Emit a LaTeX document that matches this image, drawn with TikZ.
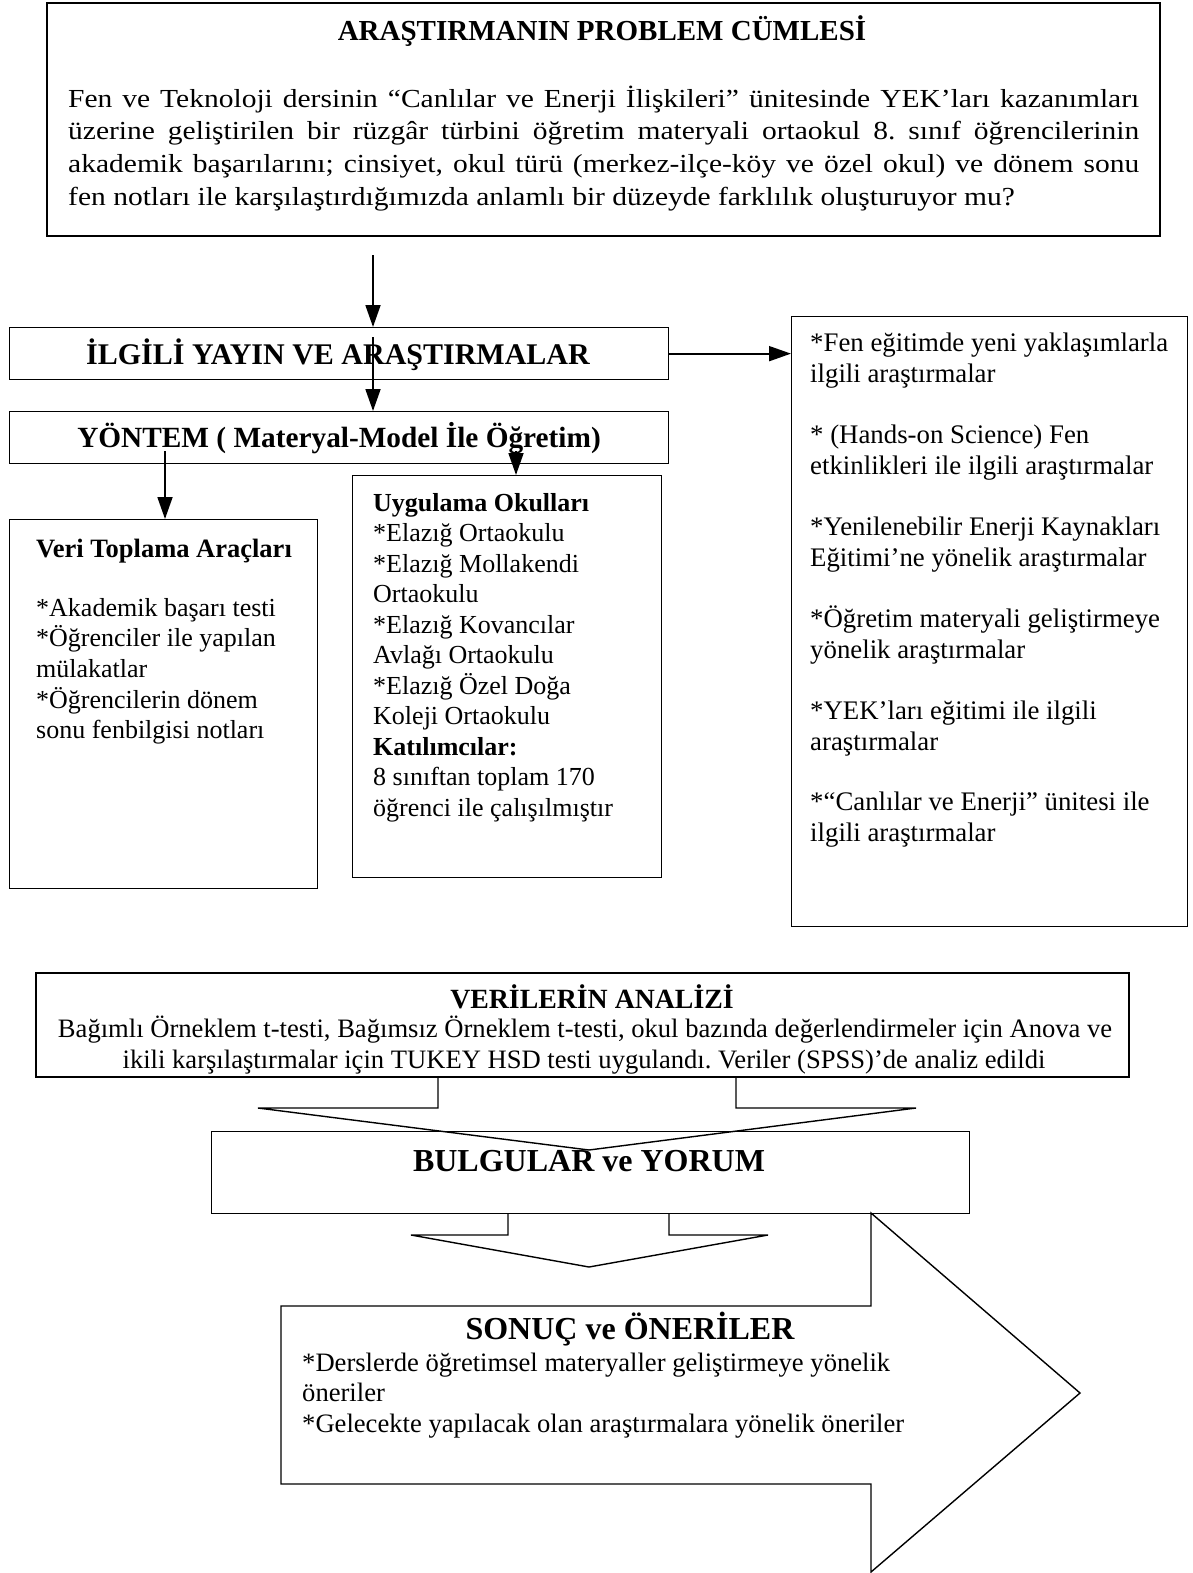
\documentclass[tikz,border=0pt]{standalone}
\usepackage{fontspec}
\setmainfont{Liberation Serif}
\newfontfamily\widefont{Liberation Serif}[FakeStretch=1.135]
\frenchspacing
\usetikzlibrary{arrows.meta}
\tikzset{
  box/.style={draw, line width=1.3pt, inner sep=0pt, anchor=north west},
  arr/.style={line width=1.8pt, -{Triangle[width=15pt,length=22pt]}},
  blockarrow/.style={draw, line width=1.4pt, line join=miter},
  txt/.style={inner sep=0pt, anchor=base west, font=\fontsize{26}{30}\selectfont},
  rtxt/.style={txt, font=\fontsize{26.8}{30}\selectfont},
  btxt/.style={txt, font=\fontsize{26}{30}\selectfont\bfseries},
  wtxt/.style={inner sep=0pt, anchor=base west, font=\widefont\fontsize{26}{30}\selectfont},
  ctxt/.style={inner sep=0pt, anchor=base, font=\fontsize{26.6}{30}\selectfont},
  cbtxt/.style={inner sep=0pt, anchor=base, font=\fontsize{27.8}{30}\selectfont\bfseries},
  bigtitle/.style={inner sep=0pt, anchor=base, font=\fontsize{29.5}{32}\selectfont\bfseries},
  hugetitle/.style={inner sep=0pt, anchor=base, font=\fontsize{32}{36}\selectfont\bfseries}
}
\begin{document}
\begin{tikzpicture}[x=1pt,y=-1pt]
\useasboundingbox[fill=white] (0,0) rectangle (1192,1573);

% ---------- boxes ----------
\node[box, line width=1.8pt, minimum width=1113pt, minimum height=233pt] (top) at (46,2) {};
\node[box, minimum width=659pt, minimum height=52pt] (ilgili) at (9,327) {};
\node[box, minimum width=659pt, minimum height=52pt] (yontem) at (9,411) {};
\node[box, minimum width=308pt, minimum height=369pt] (veri) at (9,519) {};
\node[box, minimum width=309pt, minimum height=402pt] (uyg) at (352,475) {};
\node[box, minimum width=396pt, minimum height=610pt] (right) at (791,316) {};
\node[box, line width=1.8pt, minimum width=1093pt, minimum height=104pt] (analiz) at (35,972) {};
\node[box, minimum width=758pt, minimum height=82pt] (bulgu) at (211,1131) {};

% ---------- top box text ----------
\node[bigtitle, font=\fontsize{29}{32}\selectfont\bfseries] (toptitle) at (602,41) {ARAŞTIRMANIN PROBLEM CÜMLESİ};
\node[wtxt] (p1) at (68,107.5) {\makebox[1071pt][s]{Fen ve Teknoloji dersinin “Canlılar ve Enerji İlişkileri” ünitesinde YEK’ları kazanımları}};
\node[wtxt] (p2) at (68,140) {\makebox[1071pt][s]{üzerine geliştirilen bir rüzgâr türbini öğretim materyali ortaokul 8. sınıf öğrencilerinin}};
\node[wtxt] (p3) at (68,172.5) {\makebox[1071pt][s]{akademik başarılarını; cinsiyet, okul türü (merkez-ilçe-köy ve özel okul) ve dönem sonu}};
\node[wtxt] (p4) at (68,205) {fen notları ile karşılaştırdığımızda anlamlı bir düzeyde farklılık oluşturuyor mu?};

% ---------- middle titles ----------
\node[bigtitle, font=\fontsize{30}{32}\selectfont\bfseries] (ilgilit) at (338,364) {İLGİLİ YAYIN VE ARAŞTIRMALAR};
\node[bigtitle, font=\fontsize{29.3}{32}\selectfont\bfseries] (yontemt) at (339,447) {YÖNTEM ( Materyal-Model İle Öğretim)};

% ---------- veri toplama ----------
\node[btxt, font=\fontsize{26.5}{30}\selectfont\bfseries] (v0) at (36,557) {Veri Toplama Araçları};
\node[txt] (v1) at (36,616) {*Akademik başarı testi};
\node[txt] (v2) at (36,646.7) {*Öğrenciler ile yapılan};
\node[txt] (v3) at (36,677.4) {mülakatlar};
\node[txt] (v4) at (36,708) {*Öğrencilerin dönem};
\node[txt] (v5) at (36,738.8) {sonu fenbilgisi notları};

% ---------- uygulama okullari ----------
\node[btxt] (u0) at (373,511) {Uygulama Okulları};
\node[txt] (u1) at (373,541.5) {*Elazığ Ortaokulu};
\node[txt] (u2) at (373,572) {*Elazığ Mollakendi};
\node[txt] (u3) at (373,602.5) {Ortaokulu};
\node[txt] (u4) at (373,633) {*Elazığ Kovancılar};
\node[txt] (u5) at (373,663.5) {Avlağı Ortaokulu};
\node[txt] (u6) at (373,694) {*Elazığ Özel Doğa};
\node[txt] (u7) at (373,724.5) {Koleji Ortaokulu};
\node[btxt] (u8) at (373,755) {Katılımcılar:};
\node[txt] (u9) at (373,785.5) {8 sınıftan toplam 170};
\node[txt] (u10) at (373,816) {öğrenci ile çalışılmıştır};

% ---------- right box ----------
\node[rtxt] (r1) at (810,351) {*Fen eğitimde yeni yaklaşımlarla};
\node[rtxt] (r2) at (810,382) {ilgili araştırmalar};
\node[rtxt] (r3) at (810,443) {* (Hands-on Science) Fen};
\node[rtxt] (r4) at (810,474) {etkinlikleri ile ilgili araştırmalar};
\node[rtxt] (r5) at (810,535) {*Yenilenebilir Enerji Kaynakları};
\node[rtxt] (r6) at (810,566) {Eğitimi’ne yönelik araştırmalar};
\node[rtxt] (r7) at (810,627) {*Öğretim materyali geliştirmeye};
\node[rtxt] (r8) at (810,658) {yönelik araştırmalar};
\node[rtxt] (r9) at (810,719) {*YEK’ları eğitimi ile ilgili};
\node[rtxt] (r10) at (810,750) {araştırmalar};
\node[rtxt] (r11) at (810,810) {*“Canlılar ve Enerji” ünitesi ile};
\node[rtxt] (r12) at (810,841) {ilgili araştırmalar};

% ---------- analiz ----------
\node[cbtxt] (a0) at (592,1008) {VERİLERİN ANALİZİ};
\node[ctxt] (a1) at (585,1037.5) {Bağımlı Örneklem t-testi, Bağımsız Örneklem t-testi, okul bazında değerlendirmeler için Anova ve};
\node[ctxt] (a2) at (584,1068) {ikili karşılaştırmalar için TUKEY HSD testi uygulandı. Veriler (SPSS)’de analiz edildi};

% ---------- bulgular ----------
\node[hugetitle] (b0) at (589,1171) {BULGULAR ve YORUM};

% ---------- block arrows ----------
\draw[blockarrow] (438,1076) -- (438,1108) -- (258,1108) -- (589,1150) -- (916,1108) -- (736,1108) -- (736,1076);
\draw[blockarrow] (508,1213) -- (508,1235) -- (411,1235) -- (589,1267) -- (768,1235) -- (669,1235) -- (669,1213);
\draw[blockarrow] (871,1213) -- (871,1306) -- (281,1306) -- (281,1484) -- (871,1484) -- (871,1572) -- (1080,1393) -- cycle;

% ---------- sonuc ----------
\node[hugetitle] (s0) at (630,1339) {SONUÇ ve ÖNERİLER};
\node[txt, font=\fontsize{26.6}{30}\selectfont] (s1) at (302,1371) {*Derslerde öğretimsel materyaller geliştirmeye yönelik};
\node[txt, font=\fontsize{26.6}{30}\selectfont] (s2) at (302,1401) {öneriler};
\node[txt, font=\fontsize{26.6}{30}\selectfont] (s3) at (302,1432) {*Gelecekte yapılacak olan araştırmalara yönelik öneriler};

% ---------- connectors ----------
\coordinate (c1) at (373,255);
\coordinate (c2) at (373,337);
\coordinate (c3) at (165,451);
\coordinate (c4) at (516,451);
\draw[arr] (c1) -- (c1 |- ilgili.north);
\draw[arr] (c2) -- (c2 |- yontem.north);
\draw[arr] (c3) -- (c3 |- veri.north);
\draw[arr] (c4) -- (c4 |- uyg.north);
\draw[arr] (ilgili.east) -- (right.west |- ilgili.east);
\end{tikzpicture}
\end{document}
